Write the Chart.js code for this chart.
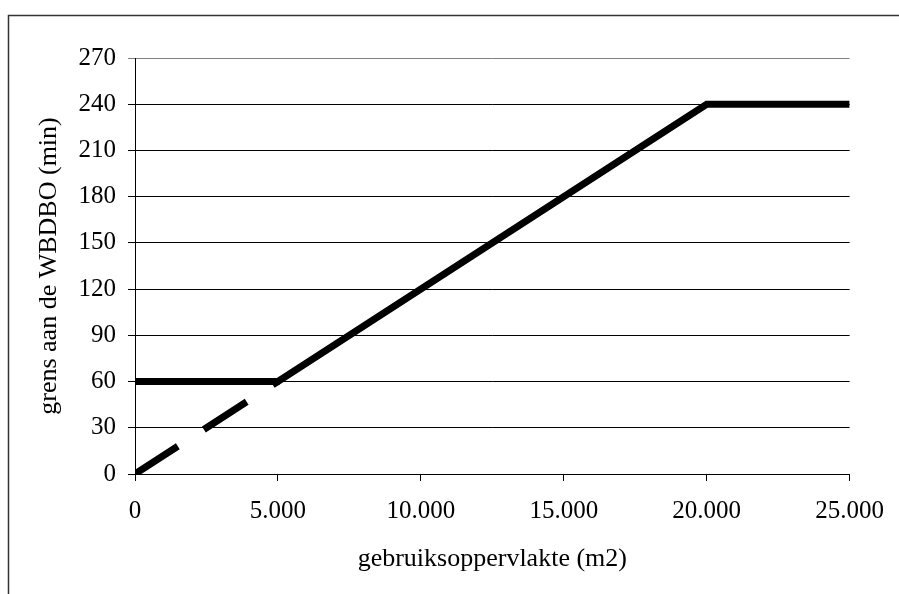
<!DOCTYPE html>
<html>
<head>
<meta charset="utf-8">
<script src="https://cdn.jsdelivr.net/npm/chart.js@4/dist/chart.umd.min.js"></script>
<style>
  html, body { margin: 0; padding: 0; background: #fff; }
  #wrap { width: 899px; height: 594px; }
</style>
</head>
<body>
<div id="wrap"><canvas id="chartLine" width="899" height="594"></canvas></div>
<script>
// waarden
const areaSolid = [0, 5000, 20000, 25000];
const limitSolid = [60, 60, 240, 240];
const areaDashed = [0, 5000];
const limitDashed = [0, 60];
const yTicks = [0, 30, 60, 90, 120, 150, 180, 210, 240, 270];
const xTicks = [0, 5000, 10000, 15000, 20000, 25000];

const serif = "'Liberation Serif', 'Times New Roman', serif";

function toPoints(xs, ys) {
    return xs.map((x, i) => ({x: x, y: ys[i]}));
}

function dutchNumber(v) {
    return String(v).replace(/\B(?=(\d{3})+(?!\d))/g, '.');
}

const frame = {
    id: 'frame',
    beforeDraw(chart) {
        const ctx = chart.ctx;
        ctx.save();
        ctx.fillStyle = '#fff';
        ctx.fillRect(0, 0, chart.width, chart.height);
        ctx.strokeStyle = '#333';
        ctx.lineWidth = 1.5;
        ctx.strokeRect(8.5, 15.5, 1000, 1000);
        ctx.restore();
    }
};

const ctxLine = document.getElementById('chartLine');
const chartLine = new Chart(ctxLine, {
    type: 'line',
    data: {
        datasets: [
            {
                label: 'grens',
                data: toPoints(areaSolid, limitSolid),
                borderColor: '#000',
                borderWidth: 7,
                borderCapStyle: 'butt',
                borderJoinStyle: 'miter',
                pointRadius: 0,
                tension: 0,
            },
            {
                label: 'grens (gestreept)',
                data: toPoints(areaDashed, limitDashed),
                borderColor: '#000',
                borderWidth: 7,
                borderDash: [51, 31],
                borderCapStyle: 'butt',
                pointRadius: 0,
                tension: 0,
            },
        ]
    },
    options: {
        responsive: false,
        animation: false,
        layout: {
            padding: {left: 0, top: 58, right: 48, bottom: 0}
        },
        plugins: {
            legend: {display: false},
            tooltip: {enabled: false},
        },
        scales: {
            x: {
                type: 'linear',
                min: 0,
                max: 25000,
                afterFit: (scale) => { scale.height = 120; },
                afterBuildTicks: (scale) => { scale.ticks = xTicks.map(v => ({value: v})); },
                grid: {
                    drawOnChartArea: false,
                    drawTicks: true,
                    tickLength: 7,
                    color: '#000',
                },
                border: {display: true, color: '#000', width: 1},
                ticks: {
                    color: '#000',
                    font: {family: serif, size: 25},
                    padding: 15,
                    maxRotation: 0,
                    callback: (v) => dutchNumber(v),
                },
                title: {
                    display: true,
                    text: 'gebruiksoppervlakte (m2)',
                    color: '#000',
                    font: {family: serif, size: 26},
                    padding: {top: 0, bottom: 19},
                },
            },
            y: {
                min: 0,
                max: 270,
                afterFit: (scale) => { scale.width = 135; },
                afterBuildTicks: (scale) => { scale.ticks = yTicks.map(v => ({value: v})); },
                grid: {
                    color: (c) => (c.tick && c.tick.value === 270 ? '#808080' : '#000'),
                    lineWidth: 1,
                    drawTicks: true,
                    tickLength: 7,
                },
                border: {display: true, color: '#000', width: 1},
                ticks: {
                    color: '#000',
                    font: {family: serif, size: 25},
                    padding: 12,
                },
                title: {
                    display: true,
                    text: 'grens aan de WBDBO (min)',
                    color: '#000',
                    font: {family: serif, size: 26},
                    padding: {top: 34, bottom: 0},
                },
            },
        },
    },
    plugins: [frame],
});
</script>
</body>
</html>
